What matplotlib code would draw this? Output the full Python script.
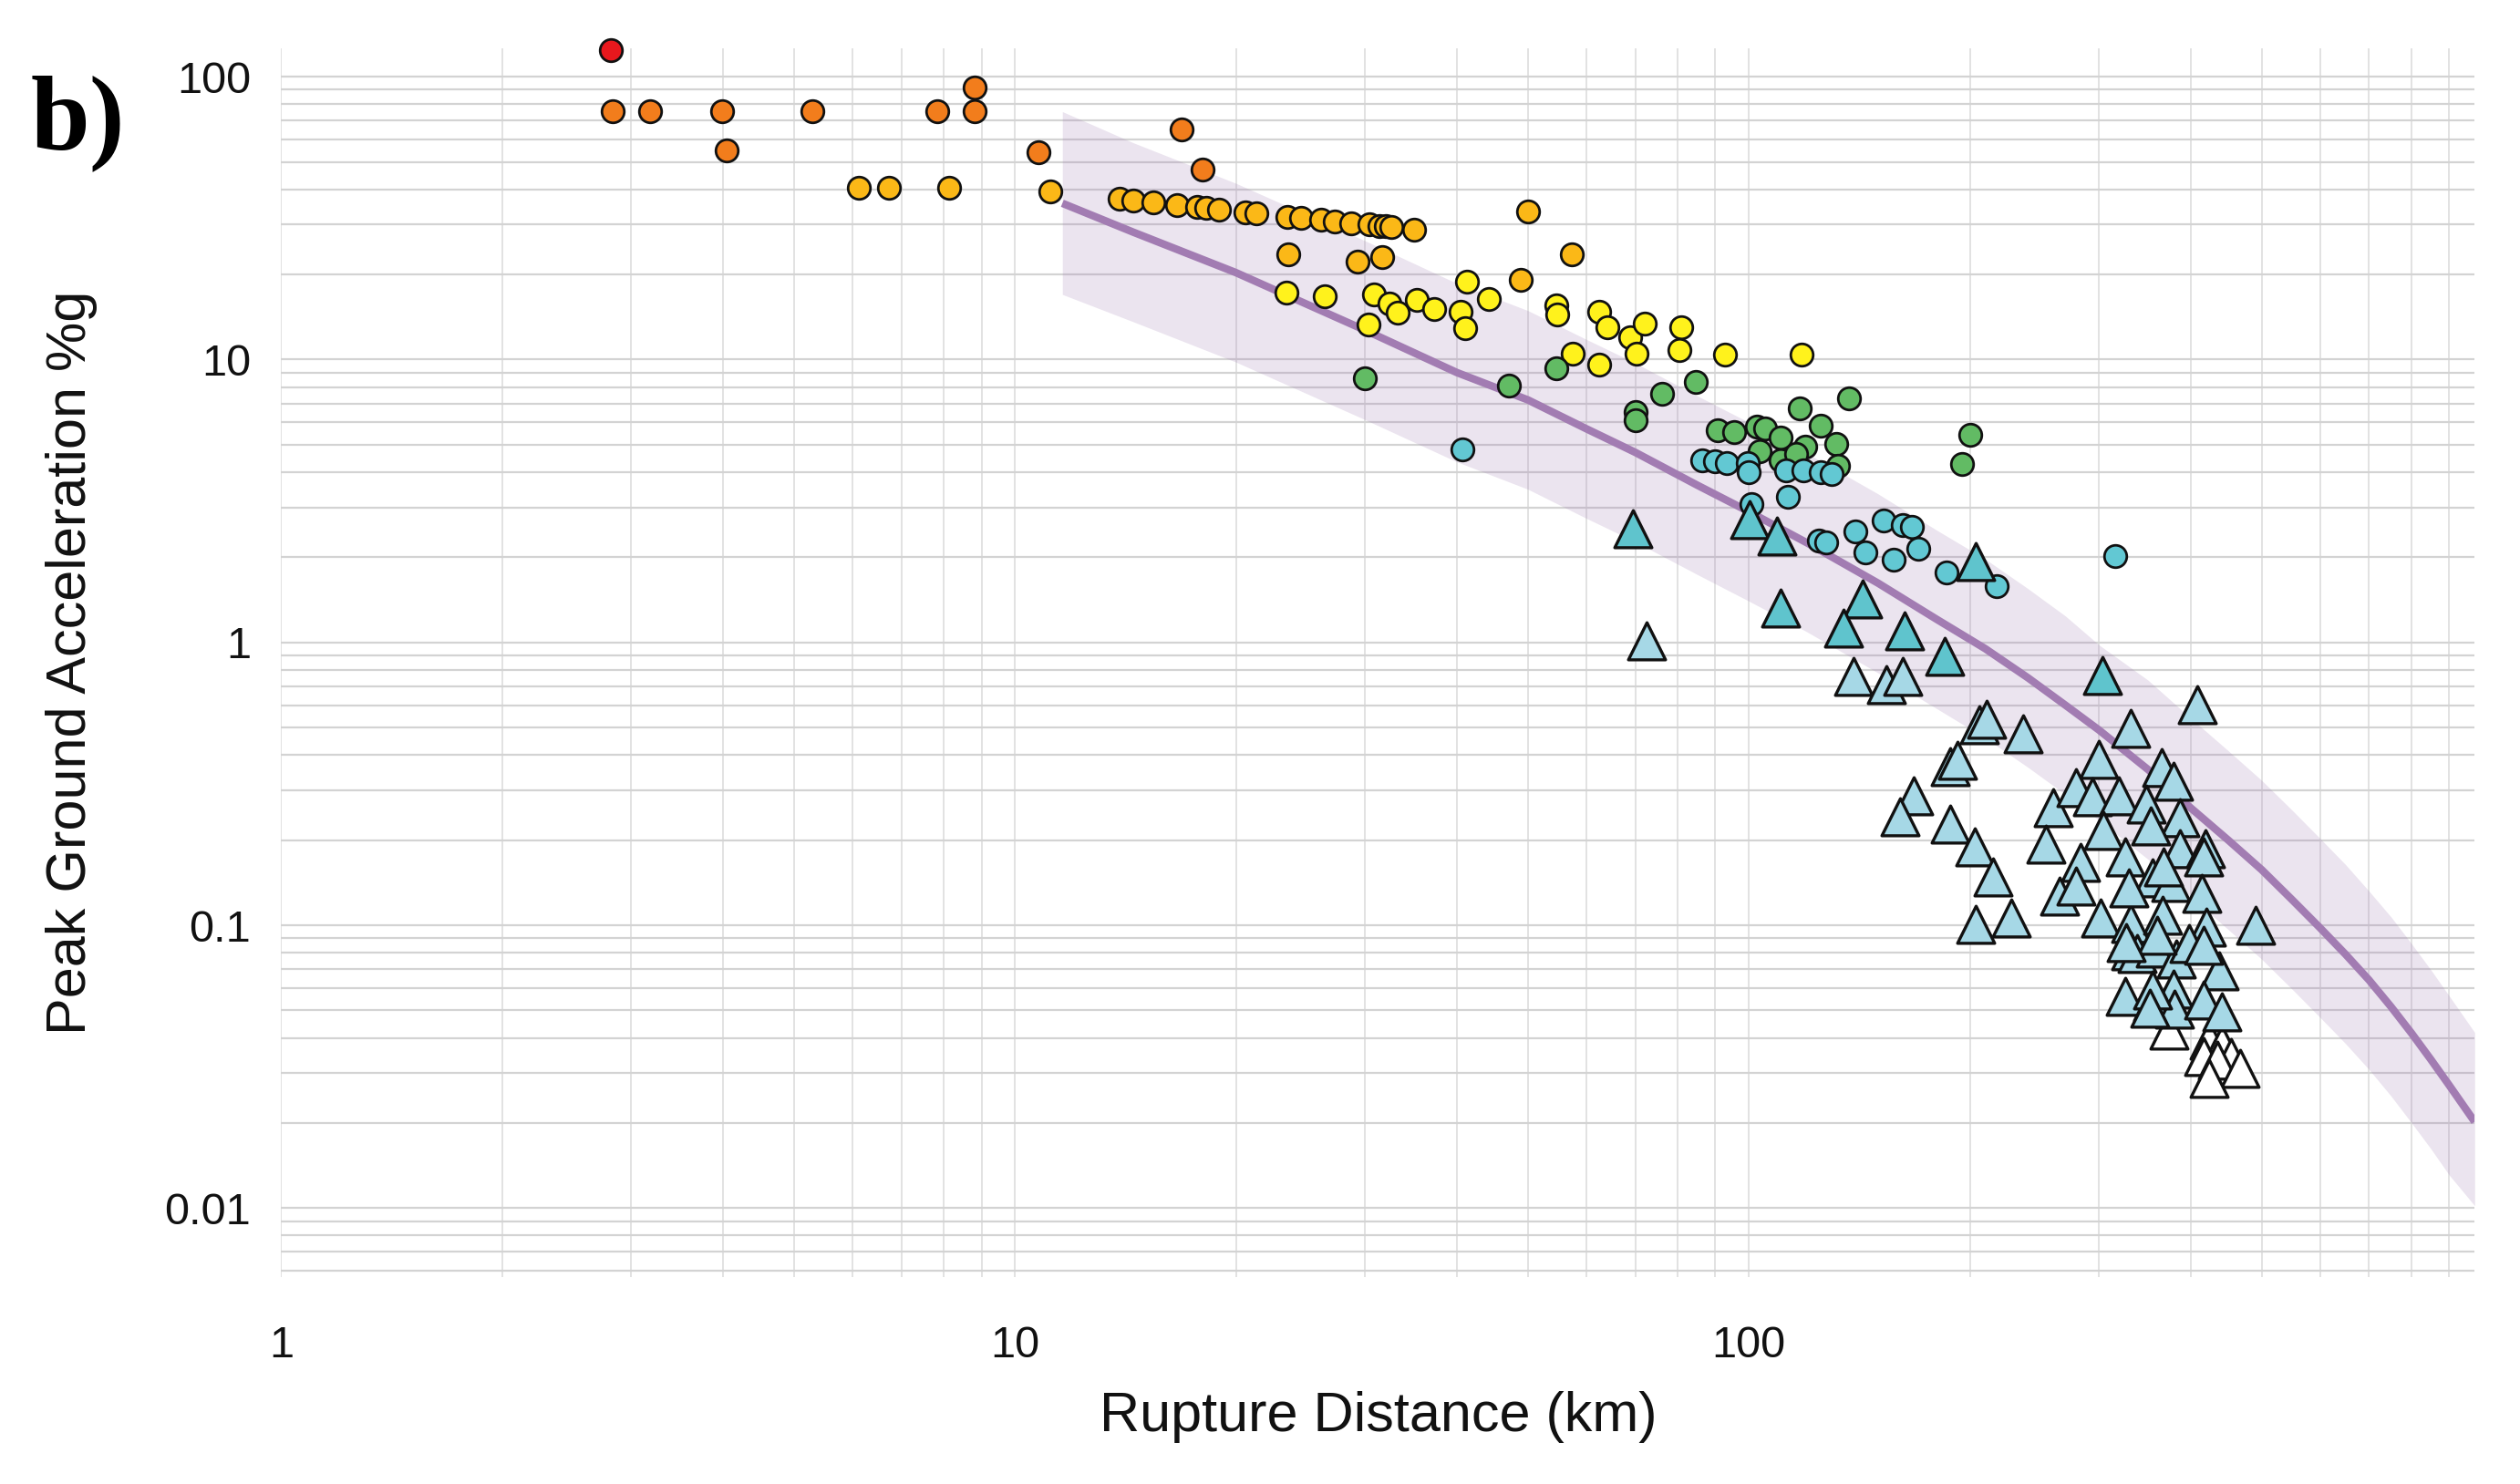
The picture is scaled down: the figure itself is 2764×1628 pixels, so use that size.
import matplotlib
matplotlib.use("Agg")
import matplotlib.pyplot as plt
from matplotlib.ticker import FixedLocator, LogLocator, NullFormatter
import numpy as np

# --- data (distance in km, PGA in %g) ---

# fitted attenuation curve and its band
curve_r = [11.6, 14.5, 20, 30, 40, 50, 60, 70, 85, 100, 120, 150, 180, 210, 240,
           270, 300, 350, 400, 450, 500, 550, 600, 650, 700, 750, 800, 850, 900, 975]
curve_pga = [35.7, 28.2, 20.3, 12.7, 9.0, 7.2, 5.7, 4.7, 3.6, 2.9, 2.25, 1.62, 1.21, 0.95, 0.75,
             0.6, 0.49, 0.355, 0.26, 0.2, 0.157, 0.123, 0.098, 0.079, 0.064, 0.0515, 0.0415, 0.0335, 0.0272, 0.0202]
band_hi = [75.3, 58.4, 42.0, 26.3, 18.6, 14.9, 11.8, 9.73, 7.45, 6.0, 4.66, 3.35, 2.5, 1.97, 1.55,
           1.24, 0.98, 0.735, 0.54, 0.414, 0.325, 0.255, 0.203, 0.164, 0.132, 0.107, 0.086, 0.0695, 0.0563, 0.0418]
band_lo = [17.0, 13.6, 9.8, 6.13, 4.35, 3.48, 2.75, 2.27, 1.74, 1.4, 1.09, 0.78, 0.585, 0.459, 0.362,
           0.29, 0.235, 0.171, 0.126, 0.0966, 0.0758, 0.0594, 0.0473, 0.0382, 0.0309, 0.0249, 0.02, 0.0162, 0.0131, 0.0102]

red_r = [2.81]
red_pga = [123.8]

orange_r = [2.83, 3.18, 3.99, 4.05, 5.30, 7.83, 8.81, 8.81, 10.75, 16.85, 18.0]
orange_pga = [75.3, 75.3, 75.3, 55.0, 75.3, 75.3, 91.3, 75.3, 54.1, 65.3, 47.1]

gold_r = [6.12, 6.73, 8.12, 11.17, 13.9, 14.5, 15.45, 16.6, 17.7, 18.2, 18.95, 20.6, 21.3,
          23.5, 24.5, 26.1, 27.3, 28.7, 30.4, 31.4, 32.0, 32.6, 35.0,
          50.0, 23.6, 29.3, 31.6, 57.4, 48.9]
gold_pga = [40.5, 40.5, 40.5, 39.2, 37.1, 36.6, 36.1, 35.3, 34.7, 34.5, 34.0, 33.2, 32.8,
            32.0, 31.7, 31.2, 30.8, 30.4, 30.0, 29.6, 29.6, 29.4, 28.7,
            33.3, 23.6, 22.2, 23.0, 23.6, 19.2]

yellow_r = [23.4, 26.4, 30.8, 32.4, 33.2, 35.3, 37.2, 30.3, 41.3, 40.5, 41.1, 44.2, 54.6, 54.8,
            62.6, 64.2, 68.9, 57.6, 62.6, 70.2, 72.1, 80.9, 80.4, 92.9, 118]
yellow_pga = [17.2, 16.7, 17.0, 15.8, 14.7, 16.3, 15.1, 13.3, 18.9, 14.8, 12.9, 16.4, 15.6, 14.4,
              14.8, 13.0, 12.0, 10.5, 9.6, 10.5, 13.4, 13.0, 10.8, 10.4, 10.4]

green_r = [30.0, 47.1, 54.7, 70.0, 70.0, 76.2, 84.7, 136.8, 117.4, 125.4, 90.7, 95.6, 102.6, 105.2,
           110.5, 119.3, 131.7, 103.5, 110.5, 116.1, 132.4, 200, 195]
green_pga = [8.6, 8.1, 9.3, 6.55, 6.09, 7.55, 8.34, 7.29, 6.72, 5.86, 5.61, 5.56, 5.79, 5.73,
             5.31, 4.93, 5.05, 4.75, 4.41, 4.64, 4.2, 5.44, 4.27]

cyan_r = [40.7, 86.4, 89.8, 93.3, 99.6, 99.9, 112.4, 118.7, 125.4, 129.5, 113, 100.7, 152.6, 162,
          166.7, 139.8, 124.7, 127.4, 144, 157.7, 170.3, 185.9, 217.9, 315.6]
cyan_pga = [4.8, 4.41, 4.36, 4.31, 4.31, 4.0, 4.07, 4.05, 4.0, 3.95, 3.28, 3.08, 2.69, 2.6,
            2.56, 2.47, 2.29, 2.26, 2.08, 1.96, 2.15, 1.77, 1.58, 2.02]

teal_tri_r = [69.5, 100.2, 109.3, 204, 110.5, 143, 134.6, 163, 185, 303]
teal_tri_pga = [2.53, 2.71, 2.37, 1.93, 1.32, 1.43, 1.12, 1.10, 0.89, 0.766]

blue_tri_r = [72.5, 139, 153.8, 162.1, 408.8, 205.8, 210.8, 236.2, 330.9, 188, 192.6, 300, 364.7, 378.8,
              167.5, 160.5, 188, 203, 214.9, 203.9, 227.5, 259.9, 253.7, 283.1, 265, 279.3, 279, 294.2,
              319.1, 304, 325.3, 347.8, 386.3, 352.8, 386.3, 418.7, 416.8, 354.5, 375.3, 414.6, 301.6,
              331.6, 366.4, 420.7, 490, 331.6, 338, 358, 382.4, 437, 397.5, 359.6, 416.6, 326.4,
              325.3, 354.5, 378.8, 380.6, 416.8, 441.3, 355.2, 351.6, 366.8, 329.7]
blue_tri_pga = [1.01, 0.756, 0.712, 0.758, 0.602, 0.513, 0.535, 0.475, 0.498, 0.365, 0.384, 0.386, 0.361, 0.324,
                0.287, 0.242, 0.228, 0.189, 0.148, 0.1004, 0.106, 0.2615, 0.1935, 0.1675, 0.1267, 0.138, 0.307, 0.284,
                0.287, 0.216, 0.1748, 0.269, 0.241, 0.224, 0.186, 0.186, 0.174, 0.1466, 0.1416, 0.13, 0.1065,
                0.1014, 0.1087, 0.0984, 0.1, 0.0813, 0.0796, 0.0832, 0.076, 0.069, 0.0863, 0.0925, 0.0849, 0.0868,
                0.0562, 0.0535, 0.0596, 0.0507, 0.0543, 0.0495, 0.0591, 0.0509, 0.161, 0.136]

white_tri_r = [373.6, 423.5, 441.3, 453.9, 416.8, 434.7, 467.2, 424.3]
white_tri_pga = [0.0427, 0.0394, 0.0379, 0.0341, 0.0343, 0.0333, 0.0313, 0.0287]

y_ticks = [0.01, 0.1, 1, 10, 100]
y_tick_labels = ["0.01", "0.1", "1", "10", "100"]
x_ticks = [1, 10, 100]
x_tick_labels = ["1", "10", "100"]


def main():
    plt.rcParams['font.family'] = ['Liberation Sans', 'DejaVu Sans']

    fig = plt.figure(figsize=(13.82, 8.14), dpi=200)
    ax = fig.add_axes([0.1116, 0.1394, 0.8704, 0.828])
    ax.set_xscale('log')
    ax.set_yscale('log')
    ax.set_xlim(1, 975)
    ax.set_ylim(0.0057, 126)

    # grid: horizontal lines a bit heavier than the vertical ones
    ax.set_axisbelow(True)
    ax.xaxis.grid(True, which='both', color='#dadada', lw=0.55)
    ax.yaxis.grid(True, which='both', color='#d3d3d3', lw=0.8)
    for s in ax.spines.values():
        s.set_visible(False)

    ax.xaxis.set_major_locator(FixedLocator(x_ticks))
    ax.yaxis.set_major_locator(FixedLocator(y_ticks))
    ax.xaxis.set_minor_locator(LogLocator(base=10, subs=np.arange(2, 10)))
    ax.yaxis.set_minor_locator(LogLocator(base=10, subs=np.arange(2, 10)))
    ax.xaxis.set_minor_formatter(NullFormatter())
    ax.yaxis.set_minor_formatter(NullFormatter())
    ax.set_xticklabels(x_tick_labels)
    ax.set_yticklabels(y_tick_labels)
    ax.tick_params(which='both', length=0, labelsize=17.5, colors='#111111')
    ax.tick_params(axis='x', pad=19)
    ax.tick_params(axis='y', pad=12)

    # model curve with its band
    ax.fill_between(curve_r, band_lo, band_hi, color='#9c78b0', alpha=0.2, lw=0, zorder=1)
    ax.plot(curve_r, curve_pga, color='#a27cb2', lw=3.0, solid_capstyle='butt', zorder=2)

    circ = dict(marker='o', s=78, edgecolors='#111111', linewidths=1.0, zorder=3, clip_on=False)
    ax.scatter(orange_r, orange_pga, c='#f27d1c', **circ)
    ax.scatter(red_r, red_pga, c='#e8181d', **circ)
    ax.scatter(gold_r, gold_pga, c='#fbb817', **circ)
    ax.scatter(yellow_r, yellow_pga, c='#fff21c', **circ)
    ax.scatter(green_r, green_pga, c='#62bb64', **circ)
    ax.scatter(cyan_r, cyan_pga, c='#62c8d3', **circ)

    tri = dict(marker='^', s=215, edgecolors='#111111', linewidths=1.2, zorder=4)
    ax.scatter(white_tri_r, white_tri_pga, c='#ffffff', **tri)
    ax.scatter(blue_tri_r, blue_tri_pga, c='#a6d8e6', **tri)
    ax.scatter(teal_tri_r, teal_tri_pga, c='#5fc4cd', **tri)

    ax.set_xlabel('Rupture Distance (km)', fontsize=22, color='#111111', va='center')
    ax.xaxis.set_label_coords(0.5, -0.114)
    ax.set_ylabel('Peak Ground Acceleration %g', fontsize=22, color='#111111', va='center')
    ax.yaxis.set_label_coords(-0.0954, 0.5)

    fig.text(0.0123, 0.8999, 'b)', fontsize=42, fontweight='bold',
             family=['Liberation Serif', 'DejaVu Serif'], ha='left', va='baseline')

    fig.savefig('out.png', dpi=200, facecolor='white')


if __name__ == "__main__":
    main()
